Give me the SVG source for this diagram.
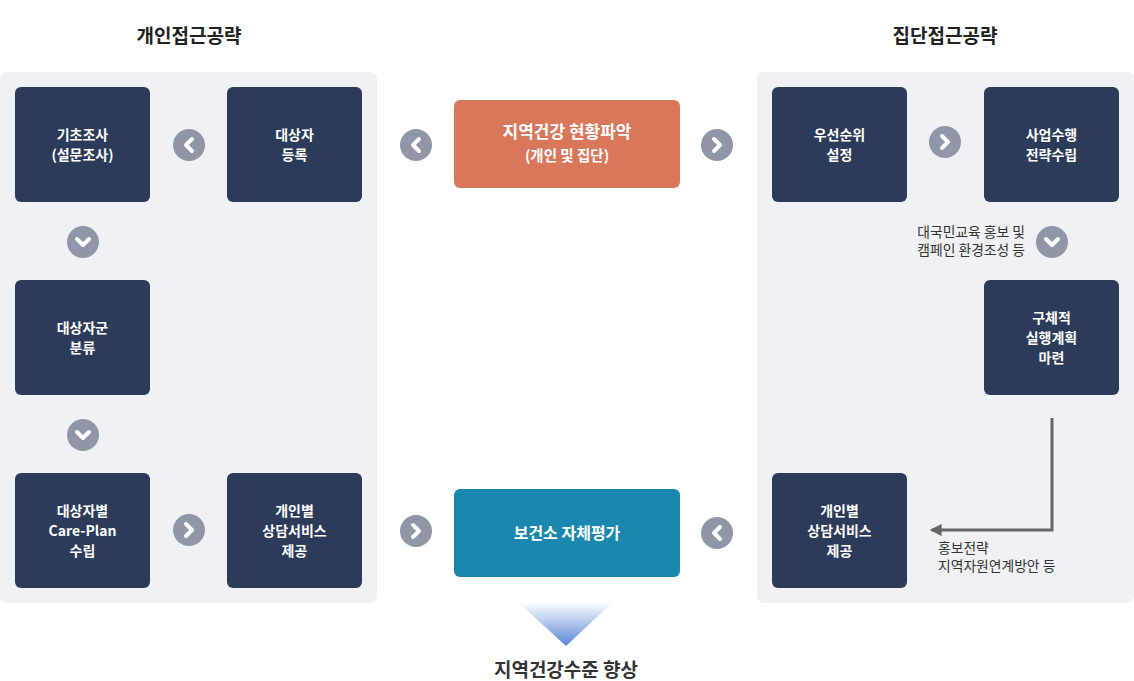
<svg xmlns="http://www.w3.org/2000/svg" width="1134" height="681" viewBox="0 0 1134 681">
<defs>
<style>
.panel{fill:#eff1f5}
.box{fill:#2c3b5a}
.t{font-family:"Noto Sans CJK KR","Noto Sans",sans-serif;font-weight:700;font-size:14px;fill:#fff;text-anchor:middle}
.h{font-family:"Noto Sans CJK KR","Noto Sans",sans-serif;font-weight:700;font-size:19px;fill:#222;text-anchor:middle}
.n{font-family:"Noto Sans CJK KR","Noto Sans",sans-serif;font-size:13.8px;fill:#333}
.c{fill:#8f96a8}
.ch{fill:none;stroke:#fff;stroke-width:4;stroke-linecap:round;stroke-linejoin:round}
</style>
<linearGradient id="tri" x1="0" y1="0" x2="0" y2="1">
<stop offset="0" stop-color="#ffffff"/>
<stop offset="1" stop-color="#5b86d6"/>
</linearGradient>
<marker id="ah" viewBox="0 0 10 10" refX="8" refY="5" markerWidth="4" markerHeight="4" orient="auto">
<path d="M0,0 L10,5 L0,10 z" fill="#666"/>
</marker>
</defs>
<rect width="1134" height="681" fill="#fff"/>
<text class="h" x="189" y="43">개인접근공략</text>
<text class="h" x="945" y="43">집단접근공략</text>
<rect class="panel" x="0" y="72" width="377" height="531" rx="7"/>
<rect class="panel" x="757" y="72" width="377" height="531" rx="7"/>

<g id="connectors">
<path d="M1052,418 V530 H932" fill="none" stroke="#666" stroke-width="3" marker-end="url(#ah)"/>
<polygon points="518,602 613,602 566,646" fill="url(#tri)"/>
<g id="c1"><circle class="c" cx="189" cy="145" r="16"/><path class="ch" d="M192,139 L186,145 L192,151"/></g>
<g id="c2"><circle class="c" cx="416" cy="145" r="16"/><path class="ch" d="M419,139 L413,145 L419,151"/></g>
<g id="c3"><circle class="c" cx="717" cy="145" r="16"/><path class="ch" d="M714,139 L720,145 L714,151"/></g>
<g id="c4"><circle class="c" cx="945" cy="142" r="16"/><path class="ch" d="M942,136 L948,142 L942,148"/></g>
<g id="c5"><circle class="c" cx="83" cy="242" r="16"/><path class="ch" d="M77,239 L83,245 L89,239"/></g>
<g id="c6"><circle class="c" cx="83" cy="435" r="16"/><path class="ch" d="M77,432 L83,438 L89,432"/></g>
<g id="c7"><circle class="c" cx="1052" cy="242" r="16"/><path class="ch" d="M1046,239 L1052,245 L1058,239"/></g>
<g id="c8"><circle class="c" cx="189" cy="530" r="16"/><path class="ch" d="M186,524 L192,530 L186,536"/></g>
<g id="c9"><circle class="c" cx="416" cy="531" r="16"/><path class="ch" d="M413,525 L419,531 L413,537"/></g>
<g id="c10"><circle class="c" cx="717" cy="533" r="16"/><path class="ch" d="M720,527 L714,533 L720,539"/></g>
</g>

<g id="n1"><rect class="box" x="15" y="87" width="135" height="115" rx="6"/><text class="t" x="82.5" y="140">기초조사</text><text class="t" x="82.5" y="160">(설문조사)</text></g>
<g id="n2"><rect class="box" x="227" y="87" width="135" height="115" rx="6"/><text class="t" x="294.5" y="140">대상자</text><text class="t" x="294.5" y="160">등록</text></g>
<g id="n3"><rect class="box" x="15" y="280" width="135" height="115" rx="6"/><text class="t" x="82.5" y="333">대상자군</text><text class="t" x="82.5" y="353">분류</text></g>
<g id="n4"><rect class="box" x="15" y="473" width="135" height="115" rx="6"/><text class="t" x="82.5" y="516">대상자별</text><text class="t" x="82.5" y="536">Care-Plan</text><text class="t" x="82.5" y="556">수립</text></g>
<g id="n5"><rect class="box" x="227" y="473" width="135" height="115" rx="6"/><text class="t" x="294.5" y="516">개인별</text><text class="t" x="294.5" y="536">상담서비스</text><text class="t" x="294.5" y="556">제공</text></g>
<g id="n6"><rect x="454" y="100" width="226" height="88" rx="6" fill="#d9775a"/><text class="t" x="567" y="138" style="font-size:17px">지역건강 현황파악</text><text class="t" x="567" y="161" style="font-size:14.5px">(개인 및 집단)</text></g>
<g id="n7"><rect x="454" y="489" width="226" height="88" rx="6" fill="#1a88ae"/><text class="t" x="567" y="539" style="font-size:16px">보건소 자체평가</text></g>
<g id="n8"><rect class="box" x="772" y="87" width="135" height="115" rx="6"/><text class="t" x="839.5" y="140">우선순위</text><text class="t" x="839.5" y="160">설정</text></g>
<g id="n9"><rect class="box" x="984" y="87" width="135" height="115" rx="6"/><text class="t" x="1051.5" y="140">사업수행</text><text class="t" x="1051.5" y="160">전략수립</text></g>
<g id="n10"><rect class="box" x="984" y="280" width="135" height="115" rx="6"/><text class="t" x="1051.5" y="323">구체적</text><text class="t" x="1051.5" y="343">실행계획</text><text class="t" x="1051.5" y="363">마련</text></g>
<g id="n11"><rect class="box" x="772" y="473" width="135" height="115" rx="6"/><text class="t" x="839.5" y="516">개인별</text><text class="t" x="839.5" y="536">상담서비스</text><text class="t" x="839.5" y="556">제공</text></g>

<text class="n" x="1025" y="237" text-anchor="end">대국민교육 홍보 및</text>
<text class="n" x="1025" y="255" text-anchor="end">캠페인 환경조성 등</text>
<text class="n" x="938" y="553">홍보전략</text>
<text class="n" x="938" y="571">지역자원연계방안 등</text>
<text class="h" x="566" y="677" style="font-size:19px;fill:#333">지역건강수준 향상</text>
</svg>
